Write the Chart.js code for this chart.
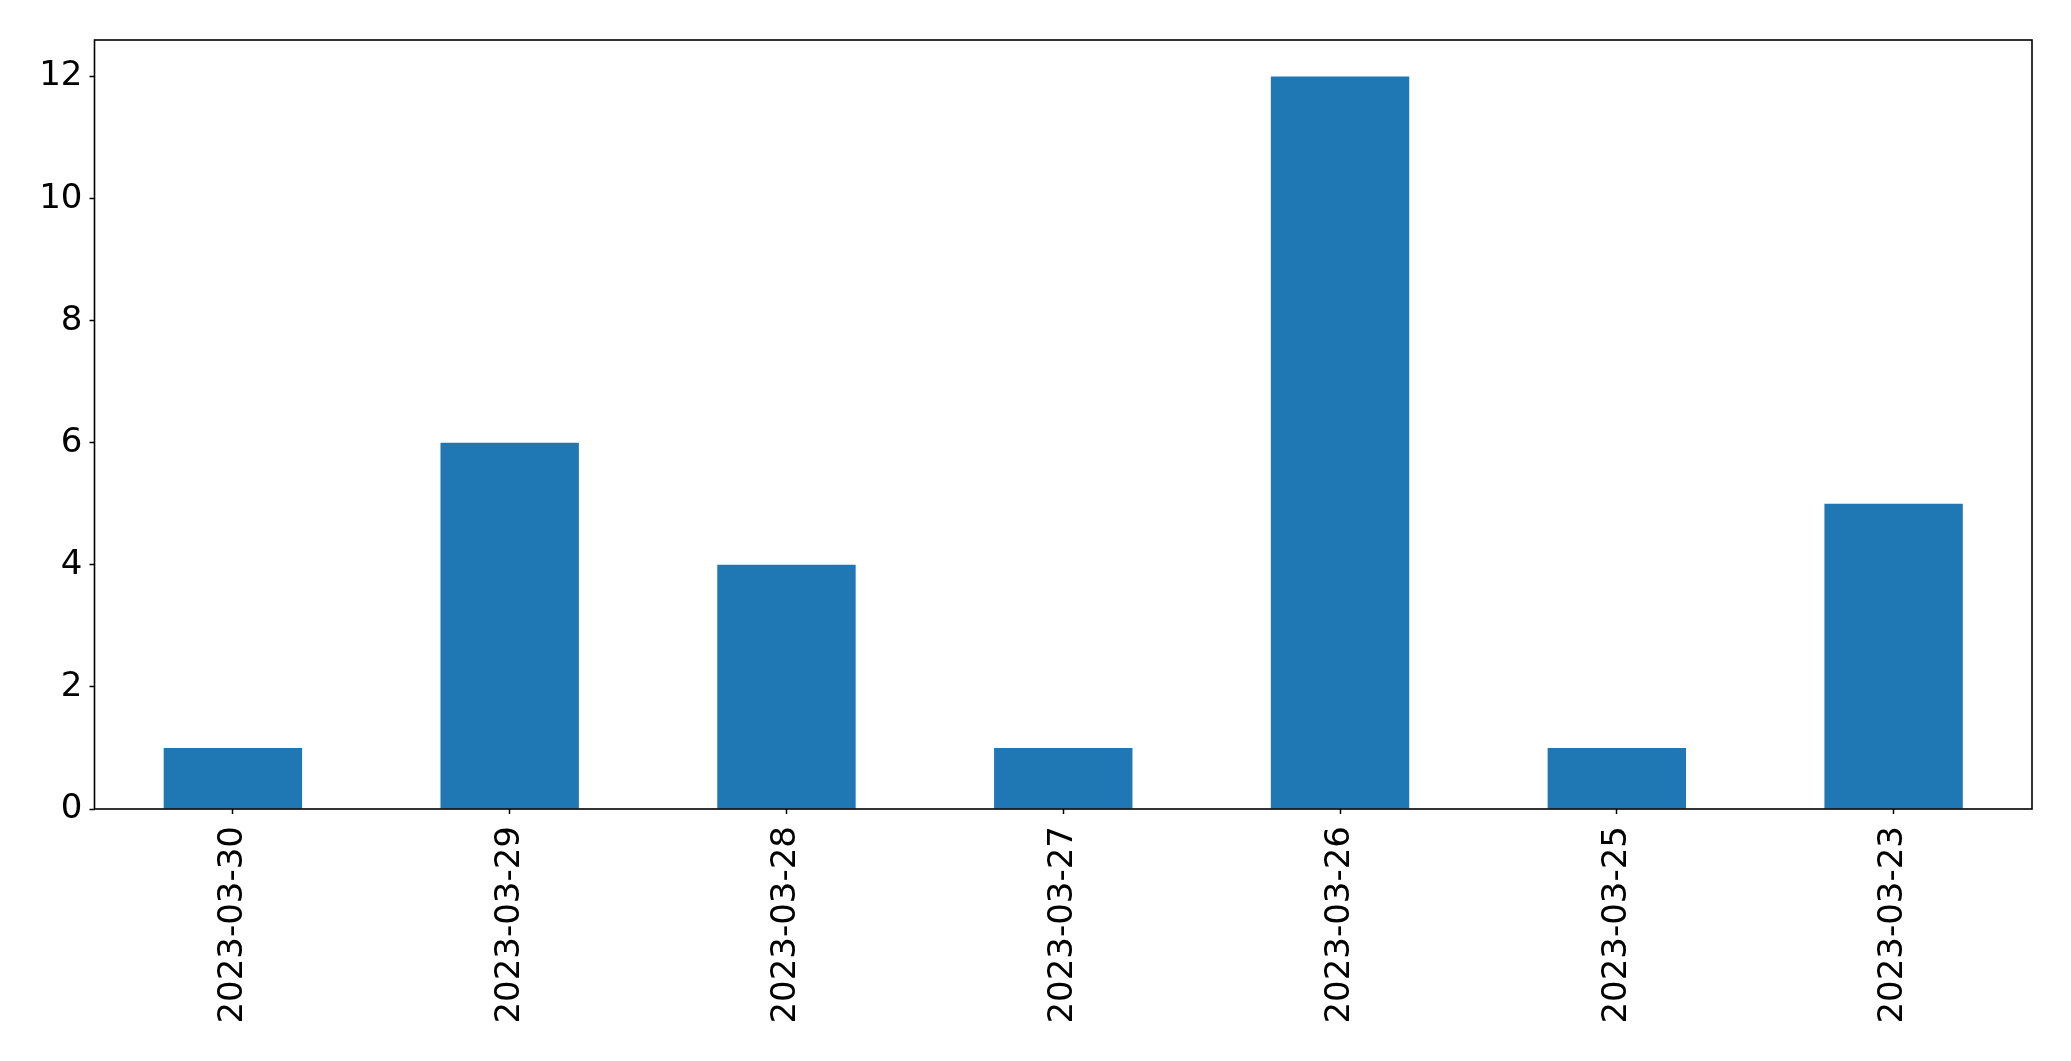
<!DOCTYPE html>
<html><head><meta charset="utf-8">
<style>html,body{margin:0;padding:0;background:#fff;}#wrap{width:2071px;height:1061px;}</style>
<script src="https://cdn.jsdelivr.net/npm/chart.js@4/dist/chart.umd.min.js"></script>
</head><body><div id="wrap"><canvas id="c" width="2071" height="1061"></canvas></div>
<script>
const categories = ["2023-03-30","2023-03-29","2023-03-28","2023-03-27","2023-03-26","2023-03-25","2023-03-23"];
const counts = [1, 6, 4, 1, 12, 1, 5];
const yTicks = [0, 2, 4, 6, 8, 10, 12];
const yMax = 12.6;

const frame = {
  id: 'frame',
  afterDraw(chart) {
    const a = chart.chartArea, ctx = chart.ctx;
    ctx.save();
    ctx.strokeStyle = '#000';
    ctx.lineWidth = 1.6;
    ctx.strokeRect(a.left, a.top, a.right - a.left, a.bottom - a.top);
    ctx.restore();
  }
};

new Chart(document.getElementById('c'), {
  type: 'bar',
  data: { labels: categories, datasets: [{ data: counts, backgroundColor: '#1f77b4', categoryPercentage: 1.0, barPercentage: 0.5 }] },
  options: {
    responsive: false, animation: false,
    layout: { padding: { top: 40, right: 39, left: 0, bottom: 0 } },
    plugins: { legend: { display: false }, tooltip: { enabled: false } },
    scales: {
      x: {
        grid: { display: true, drawOnChartArea: false, offset: false, tickLength: 5, color: '#000', tickWidth: 1.5 },
        border: { display: false },
        ticks: { color: '#000', font: { family: 'DejaVu Sans', size: 34 }, minRotation: 90, maxRotation: 90, padding: 12, autoSkip: false },
        afterFit(s) { s.height = 1061 - 809; }
      },
      y: {
        min: 0, max: yMax,
        grid: { display: true, drawOnChartArea: false, tickLength: 5, color: '#000', tickWidth: 1.5 },
        border: { display: false },
        ticks: { color: '#000', font: { family: 'DejaVu Sans', size: 34 }, padding: 7 },
        afterBuildTicks(s) { s.ticks = yTicks.map(v => ({ value: v })); },
        afterFit(s) { s.width = 94.5; }
      }
    }
  },
  plugins: [frame]
});
</script></body></html>
